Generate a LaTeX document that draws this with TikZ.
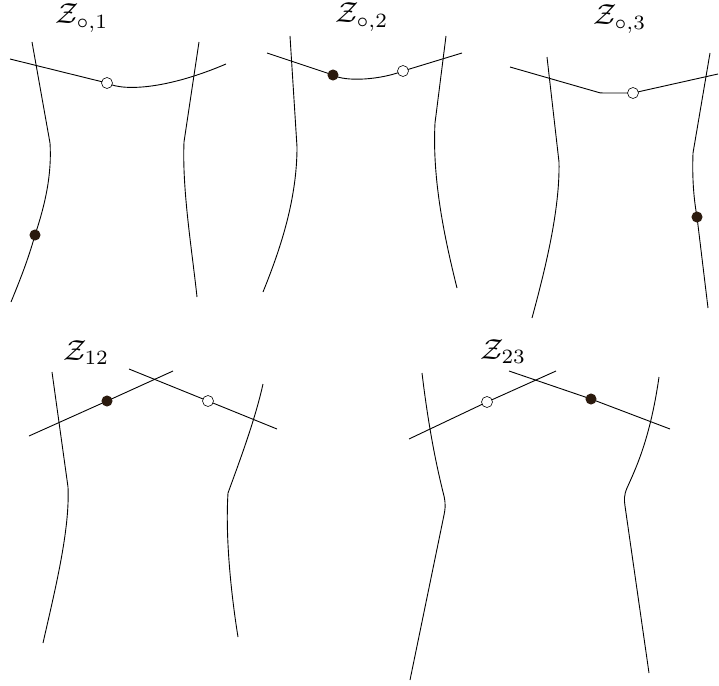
\documentclass[tikz,border=0pt]{standalone}
\usepackage{graphicx}
\begin{document}
\begin{tikzpicture}[x=1pt,y=-1pt,line width=1pt,
  curve/.style={draw=black,line width=0.9pt},
  fdot/.style={circle,fill=dotbrown,draw=dotbrown,inner sep=0pt,minimum size=10pt},
  odot/.style={circle,fill=white,draw=black,line width=0.6pt,inner sep=0pt,minimum size=11pt},
  lab/.style={anchor=base west,inner sep=0pt}]
\definecolor{dotbrown}{HTML}{2B1A0E}
\newcommand{\biglab}[1]{\scalebox{2.9}{$#1$}}
\useasboundingbox (0,0) rectangle (719,685);
% Panel 1
\node[lab] (l1) at (55,24) {\biglab{\mathcal{Z}_{\circ,1}}};
\draw[curve] (32,42) -- (50,143) .. controls (52,175) and (45,205) .. (35,235) .. controls (28,260) and (20,280) .. (11,302);
\draw[curve] (199,42) -- (184,142) .. controls (182,190) and (192,250) .. (197,297);
\draw[curve] (10,59) -- (107,83) .. controls (125,92) and (170,88) .. (226,64);
\node[fdot] (f1) at (35,235) {};
\node[odot] (o1) at (107,83) {};
% Panel 2
\node[lab] (l2) at (335,23) {\biglab{\mathcal{Z}_{\circ,2}}};
\draw[curve] (290,36) -- (297,147) .. controls (297,200) and (280,250) .. (263,292);
\draw[curve] (446,36) -- (435,123) .. controls (432,180) and (445,240) .. (457,288);
\draw[curve] (267,53) -- (333,75) .. controls (345,82) and (380,80) .. (403,71) -- (462,53);
\node[fdot] (f2) at (333,75) {};
\node[odot] (o2) at (403,71) {};
% Panel 3
\node[lab] (l3) at (593,25) {\biglab{\mathcal{Z}_{\circ,3}}};
\draw[curve] (547,57) -- (559,162) .. controls (560,210) and (545,270) .. (532,318);
\draw[curve] (710,53) -- (693,153) .. controls (692,180) and (694,200) .. (697,217) -- (708,308);
\draw[curve] (510,67) -- (597,92) .. controls (599,93) and (601,93) .. (604,93) -- (633,93) -- (718,74);
\node[fdot] (f3) at (697,217) {};
\node[odot] (o3) at (633,93) {};
% Panel 4
\node[lab] (l4) at (63,360) {\biglab{\mathcal{Z}_{12}}};
\draw[curve] (52,372) -- (68,487) .. controls (70,530) and (55,590) .. (43,643);
\draw[curve] (263,384) .. controls (255,420) and (240,460) .. (228,493) .. controls (225,540) and (232,600) .. (238,637);
\draw[curve] (29,436) -- (107,401) -- (173,371);
\draw[curve] (129,369) -- (208,401) -- (277,429);
\node[fdot] (f4) at (107,401) {};
\node[odot] (o4) at (208,401) {};
% Panel 5
\node[lab] (l5) at (480,359) {\biglab{\mathcal{Z}_{23}}};
\draw[curve] (422,373) .. controls (430,440) and (440,480) .. (444,496) .. controls (446,505) and (445,510) .. (444,515) -- (410,680);
\draw[curve] (659,377) .. controls (650,440) and (635,470) .. (627,488) .. controls (624,495) and (624,500) .. (625,506) -- (649,673);
\draw[curve] (409,439) -- (487,402) -- (556,371);
\draw[curve] (509,371) -- (591,399) -- (670,429);
\node[odot] (o5) at (487,402) {};
\node[fdot] (f5) at (591,399) {};
\end{tikzpicture}
\end{document}
